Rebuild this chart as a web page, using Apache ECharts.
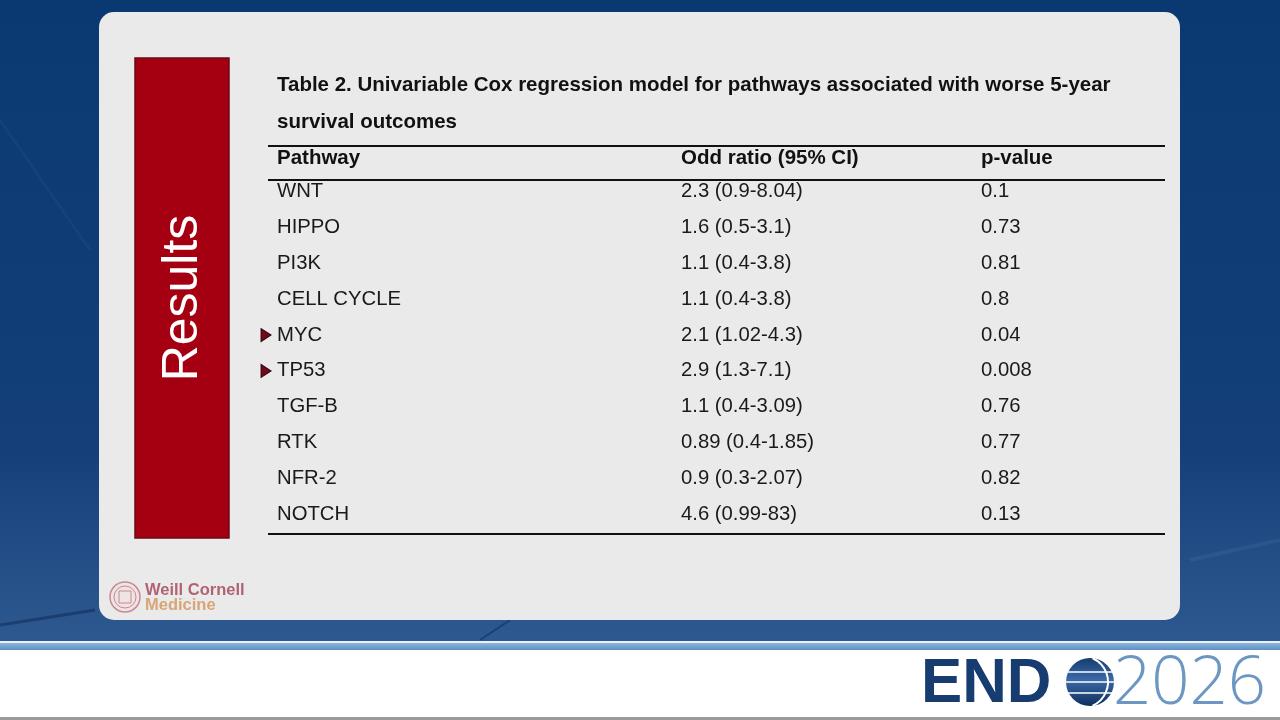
<!DOCTYPE html>
<html>
<head>
    <meta charset="UTF-8">
    <title>Table 2 - Univariable Cox regression</title>
    <script type="text/javascript" src="https://cdn.jsdelivr.net/npm/echarts@6/dist/echarts.min.js"></script>
    <style>
        html, body { margin: 0; padding: 0; }
        #main { width: 1280px; height: 720px; }
    </style>
</head>
<body>
    <div id="main"></div>
    <script>
        // table data
        var pathways = ['WNT', 'HIPPO', 'PI3K', 'CELL CYCLE', 'MYC', 'TP53', 'TGF-B', 'RTK', 'NFR-2', 'NOTCH'];
        var oddRatios = ['2.3 (0.9-8.04)', '1.6 (0.5-3.1)', '1.1 (0.4-3.8)', '1.1 (0.4-3.8)', '2.1 (1.02-4.3)',
            '2.9 (1.3-7.1)', '1.1 (0.4-3.09)', '0.89 (0.4-1.85)', '0.9 (0.3-2.07)', '4.6 (0.99-83)'];
        var pValues = ['0.1', '0.73', '0.81', '0.8', '0.04', '0.008', '0.76', '0.77', '0.82', '0.13'];
        var headers = ['Pathway', 'Odd ratio (95% CI)', 'p-value'];
        var highlighted = ['MYC', 'TP53'];
        var titleLines = ['Table 2. Univariable Cox regression model for pathways associated with worse 5-year',
            'survival outcomes'];

        var chart = echarts.init(document.getElementById('main'), null, {renderer: 'canvas'});

        // column starts as a fraction of the table width
        var colX = [0.0295, 0.471, 0.799];
        var markerX = 0.0175;
        var FONT = '"Liberation Sans", Arial, sans-serif';

        function columnSeries(values, x) {
            return {
                type: 'scatter',
                symbolSize: 0,
                silent: true,
                clip: false,
                itemStyle: {opacity: 1},
                data: values.map(function (v, i) { return {value: [x, pathways[i]], text: v}; }),
                label: {
                    show: true,
                    position: 'right',
                    distance: 0,
                    formatter: function (p) { return p.data.text; },
                    color: '#1a1a1a',
                    fontSize: 20.3,
                    fontFamily: FONT
                }
            };
        }

        var ruleStyle = {stroke: '#111', lineWidth: 2};
        var boldFont = 'bold 20.5px ' + FONT;

        var option = {
            animation: false,
            backgroundColor: '#ffffff',
            grid: {left: 250, right: 115, top: 174, bottom: 188},
            xAxis: {type: 'value', min: 0, max: 1, show: false},
            yAxis: {type: 'category', data: pathways, inverse: true, show: false},
            graphic: [
                // slide background
                {type: 'rect', z: -10, shape: {x: 0, y: 0, width: 1280, height: 641},
                    style: {fill: new echarts.graphic.LinearGradient(0, 0, 0, 1, [
                        {offset: 0, color: '#0a3972'}, {offset: 0.7, color: '#143f78'}, {offset: 1, color: '#2d5890'}])}},
                {type: 'line', z: -9, shape: {x1: 0, y1: 120, x2: 90, y2: 250}, style: {stroke: 'rgba(255,255,255,0.03)', lineWidth: 3}},
                {type: 'line', z: -9, shape: {x1: 0, y1: 625, x2: 95, y2: 610}, style: {stroke: 'rgba(0,20,60,0.35)', lineWidth: 3}},
                {type: 'line', z: -9, shape: {x1: 480, y1: 640, x2: 510, y2: 620}, style: {stroke: 'rgba(0,20,60,0.35)', lineWidth: 2}},
                {type: 'line', z: -9, shape: {x1: 1190, y1: 560, x2: 1280, y2: 540}, style: {stroke: 'rgba(255,255,255,0.05)', lineWidth: 4}},
                // blue stripe
                {type: 'rect', z: -9, shape: {x: 0, y: 641, width: 1280, height: 2}, style: {fill: '#e8f2fb'}},
                {type: 'rect', z: -9, shape: {x: 0, y: 643, width: 1280, height: 7},
                    style: {fill: new echarts.graphic.LinearGradient(0, 0, 0, 1, [
                        {offset: 0, color: '#8db5dc'}, {offset: 1, color: '#5f8fc4'}])}},
                {type: 'rect', z: -9, shape: {x: 0, y: 717, width: 1280, height: 3}, style: {fill: '#9a9a9a'}},
                // card
                {type: 'rect', z: -8, shape: {x: 99, y: 12, width: 1081, height: 608, r: 15}, style: {fill: '#eaeaea'}},
                // red side panel
                {type: 'rect', z: -7, shape: {x: 135, y: 58, width: 94, height: 480},
                    style: {fill: '#a50012', stroke: '#6a0b14', lineWidth: 1.5}},
                {type: 'text', z: -6, x: 183, y: 298, rotation: Math.PI / 2,
                    style: {text: 'Results', fill: '#ffffff', font: '50px ' + FONT, align: 'center', verticalAlign: 'middle'}},
                // title
                {type: 'text', x: 277, y: 85, style: {text: titleLines[0], fill: '#111', font: boldFont, verticalAlign: 'middle'}},
                {type: 'text', x: 277, y: 122, style: {text: titleLines[1], fill: '#111', font: boldFont, verticalAlign: 'middle'}},
                // table rules
                {type: 'line', shape: {x1: 268, y1: 146, x2: 1165, y2: 146}, style: ruleStyle},
                {type: 'line', shape: {x1: 268, y1: 180, x2: 1165, y2: 180}, style: ruleStyle},
                {type: 'line', shape: {x1: 268, y1: 534, x2: 1165, y2: 534}, style: ruleStyle},
                // header
                {type: 'text', x: 277, y: 158, style: {text: headers[0], fill: '#111', font: boldFont, verticalAlign: 'middle'}},
                {type: 'text', x: 681, y: 158, style: {text: headers[1], fill: '#111', font: boldFont, verticalAlign: 'middle'}},
                {type: 'text', x: 981, y: 158, style: {text: headers[2], fill: '#111', font: boldFont, verticalAlign: 'middle'}},
                // Weill Cornell logo
                {type: 'circle', shape: {cx: 125, cy: 597, r: 15}, style: {fill: '#efe3e3', stroke: '#c78a92', lineWidth: 1.5}},
                {type: 'circle', shape: {cx: 125, cy: 597, r: 11}, style: {fill: 'none', stroke: '#c78a92', lineWidth: 1}},
                {type: 'rect', shape: {x: 119, y: 591, width: 12, height: 12}, style: {fill: 'none', stroke: '#c78a92', lineWidth: 1}},
                {type: 'text', x: 145, y: 590, style: {text: 'Weill Cornell', fill: '#b16274', font: 'bold 16.5px ' + FONT, verticalAlign: 'middle'}},
                {type: 'text', x: 145, y: 605, style: {text: 'Medicine', fill: '#d8a676', font: 'bold 16.5px ' + FONT, verticalAlign: 'middle'}},
                // ENDO 2026 logo
                {type: 'text', x: 921, y: 685, scaleX: 0.98,
                    style: {text: 'END', fill: '#163c70', font: '900 63px ' + FONT, verticalAlign: 'middle'}},
                {type: 'circle', shape: {cx: 1090, cy: 682, r: 24},
                    style: {fill: new echarts.graphic.LinearGradient(0, 0, 0, 1, [
                        {offset: 0, color: '#163c70'}, {offset: 0.45, color: '#3b6aa8'}, {offset: 1, color: '#0f2f5e'}])}},
                {type: 'line', shape: {x1: 1068, y1: 672, x2: 1113, y2: 672}, style: {stroke: '#ffffff', lineWidth: 1.5}},
                {type: 'line', shape: {x1: 1066, y1: 682, x2: 1114, y2: 682}, style: {stroke: '#ffffff', lineWidth: 1.5}},
                {type: 'line', shape: {x1: 1068, y1: 693, x2: 1112, y2: 693}, style: {stroke: '#ffffff', lineWidth: 1.5}},
                {type: 'arc', shape: {cx: 1082, cy: 682, r: 26, startAngle: -1.15, endAngle: 1.15}, style: {stroke: '#ffffff', lineWidth: 2, fill: 'none'}},
                {type: 'text', x: 1113, y: 685,
                    style: {text: '2026', fill: '#6d97c3', font: '300 67px "Open Sans", ' + FONT, verticalAlign: 'middle'}}
            ],
            series: [
                columnSeries(pathways, colX[0]),
                columnSeries(oddRatios, colX[1]),
                columnSeries(pValues, colX[2]),
                {
                    type: 'scatter',
                    silent: true,
                    clip: false,
                    symbol: 'triangle',
                    symbolRotate: -90,
                    symbolSize: [13, 10],
                    itemStyle: {color: '#6e0c1d', borderColor: '#2e050c', borderWidth: 1, opacity: 1},
                    data: highlighted.map(function (p) { return [markerX, p]; })
                }
            ]
        };
        chart.setOption(option);
    </script>
</body>
</html>
